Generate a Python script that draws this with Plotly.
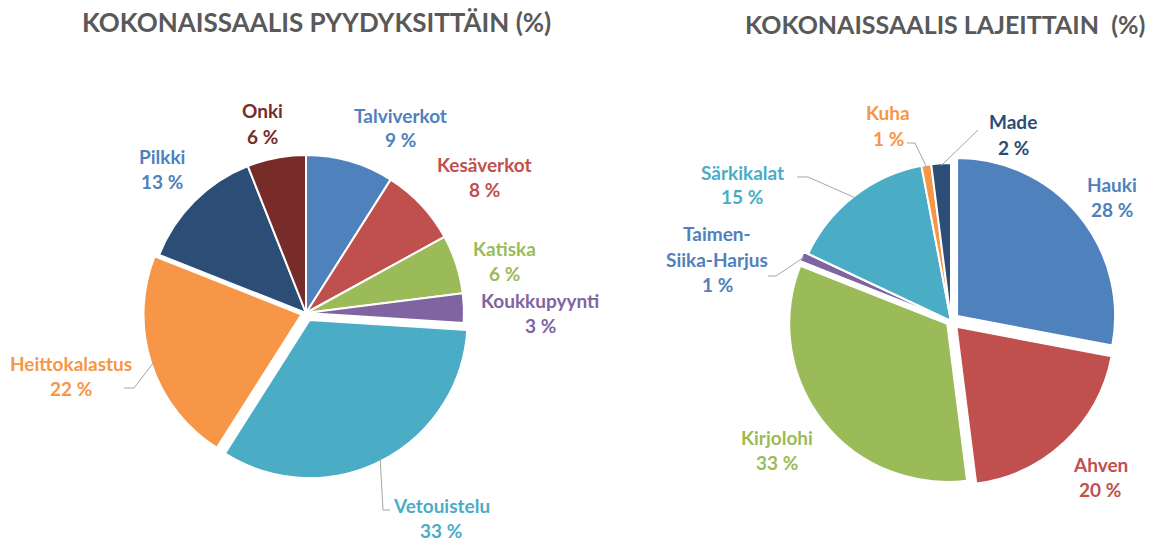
import math
import plotly.graph_objects as go

W, H = 1157, 541

# ---------------- data ----------------
gear_labels = ["Talviverkot", "Kesäverkot", "Katiska", "Koukkupyynti",
               "Vetouistelu", "Heittokalastus", "Pilkki", "Onki"]
gear_values = [9, 8, 6, 3, 33, 22, 13, 6]

species_labels = ["Hauki", "Ahven", "Kirjolohi", "Taimen-Siika-Harjus",
                  "Särkikalat", "Kuha", "Made"]
species_values = [28, 20, 33, 1, 15, 1, 2]

title_left = "KOKONAISSAALIS PYYDYKSITTÄIN (%)"
title_right = "KOKONAISSAALIS LAJEITTAIN  (%)"

# ---------------- styling / layout ----------------
gear_colors = ["#4F81BD", "#C0504D", "#9BBB59", "#8064A2",
               "#4BACC6", "#F79646", "#2C4D75", "#772C2A"]
gear_text_colors = ["#4F81BD", "#C0504D", "#9BBB59", "#8064A2",
                    "#4BACC6", "#F79646", "#4F81BD", "#772C2A"]
gear_pull = [0, 0, 0, 0, 0.05, 0.03, 0, 0]

species_colors = ["#4F81BD", "#C0504D", "#9BBB59", "#8064A2",
                  "#4BACC6", "#F79646", "#2C4D75"]
species_text_colors = ["#4F81BD", "#C0504D", "#9BBB59", "#4F81BD",
                       "#4BACC6", "#F79646", "#2C4D75"]
species_pull = [0.05, 0.05, 0.03, 0.03, 0, 0, 0]

# pie centres / radii in pixels
LEFT = dict(cx=306, cy=313, r=158)
RIGHT = dict(cx=951, cy=321, r=158)

# label first-line centres (px)
gear_label_pos = [(400, 115), (484, 164), (504, 248), (540, 300),
                  (441, 505), (71, 363), (162, 156), (262, 111)]
species_label_pos = [(1112, 184), (1100, 464), (777, 437), (717, 234),
                     (742, 172), (888, 113), (1013, 122)]
wrap = {"Taimen-Siika-Harjus": ["Taimen-", "Siika-Harjus"]}

# leader-line elbow/end points (px), keyed by label index
gear_leaders = {4: [(383, 510), (390, 510)], 5: [(134, 388), (124, 388)]}
species_leaders = {3: [(776, 276), (768, 276)], 4: [(808, 177), (797, 177)],
                   5: [(915, 143), (907, 143)], 6: [(978, 130)]}

FONT = "Lato"
LABEL_SIZE = 19
LINE_H = 25


def px(x):
    return x / W


def py(y):
    return 1 - y / H


def domain(c, pulls):
    half = c["r"] * (1 + max(pulls))
    return dict(x=[px(c["cx"] - half), px(c["cx"] + half)],
                y=[py(c["cy"] + half), py(c["cy"] - half)])


def mid_angles(values):
    tot = sum(values)
    out, acc = [], 0
    for v in values:
        out.append((acc + v / 2) / tot * 360)
        acc += v
    return out


fig = go.Figure()
annotations = []
shapes = []


def add_pie(labels, values, colors, tcolors, pulls, c, lpos, leaders):
    fig.add_trace(go.Pie(
        labels=labels, values=values, sort=False, direction="clockwise",
        rotation=0, pull=pulls, textinfo="none", hoverinfo="label+percent",
        marker=dict(colors=colors, line=dict(color="white", width=2)),
        domain=domain(c, pulls), showlegend=False))
    angs = mid_angles(values)
    for i, (lab, val) in enumerate(zip(labels, values)):
        lines = wrap.get(lab, [lab]) + [f"{val} %"]
        x0, y0 = lpos[i]
        for k, t in enumerate(lines):
            annotations.append(dict(
                x=px(x0), y=py(y0 + k * LINE_H), xref="paper", yref="paper",
                text=t, showarrow=False, xanchor="center", yanchor="middle",
                font=dict(family=FONT, size=LABEL_SIZE, color=tcolors[i],
                          weight="bold")))
        if i in leaders:
            a = math.radians(angs[i])
            rr = c["r"] * (1 + pulls[i]) * 0.985
            sx = c["cx"] + rr * math.sin(a)
            sy = c["cy"] - rr * math.cos(a)
            pts = [(sx, sy)] + leaders[i]
            path = "M " + " L ".join(f"{px(x):.5f},{py(y):.5f}" for x, y in pts)
            shapes.append(dict(type="path", path=path, xref="paper", yref="paper",
                               line=dict(color="#A6A6A6", width=1), layer="above"))


add_pie(gear_labels, gear_values, gear_colors, gear_text_colors, gear_pull,
        LEFT, gear_label_pos, gear_leaders)
add_pie(species_labels, species_values, species_colors, species_text_colors,
        species_pull, RIGHT, species_label_pos, species_leaders)

annotations.append(dict(x=px(316), y=py(22), xref="paper", yref="paper",
                        text=title_left, showarrow=False, xanchor="center",
                        yanchor="middle",
                        font=dict(family=FONT, size=26, color="#595959",
                                  weight="bold")))
annotations.append(dict(x=px(945), y=py(24), xref="paper", yref="paper",
                        text=title_right, showarrow=False, xanchor="center",
                        yanchor="middle",
                        font=dict(family=FONT, size=25, color="#595959",
                                  weight="bold")))

fig.update_layout(
    width=W, height=H, margin=dict(l=0, r=0, t=0, b=0),
    paper_bgcolor="white", plot_bgcolor="white",
    annotations=annotations, shapes=shapes,
)

fig.write_html("out.html", config={"displayModeBar": False},
               post_script="document.body.style.margin='0';"
                           "document.body.style.overflow='hidden';")
